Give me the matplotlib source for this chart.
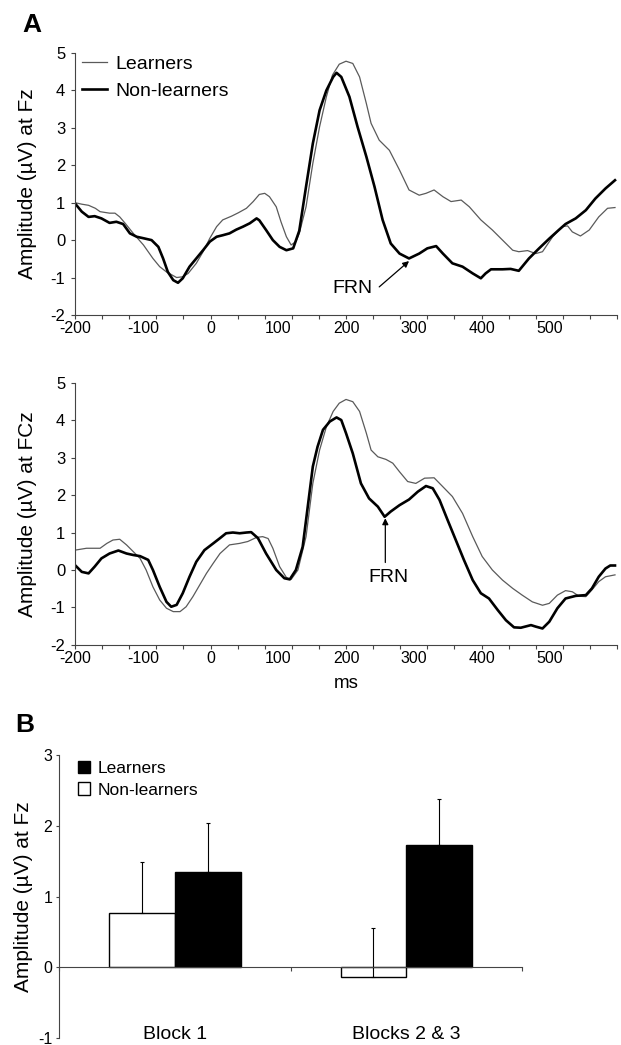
import numpy as np
import matplotlib
matplotlib.use("Agg")
import matplotlib.pyplot as plt
from matplotlib.patches import Patch

plt.rcParams.update({
    "font.family": ["Liberation Sans", "DejaVu Sans"],
    "axes.unicode_minus": False,
    "axes.edgecolor": "#444444",
    "axes.linewidth": 0.8,
    "xtick.color": "#444444",
    "ytick.color": "#444444",
    "xtick.labelcolor": "black",
    "ytick.labelcolor": "black",
})

# ---- Panel A, Fz (ms, uV) ----
fz_learn_t = [-200, -190, -180, -170, -163, -149, -141, -134, -126, -114, -99, -85, -75, -65,
              -50, -41, -33, -21, -11, -1, 9, 18, 31, 41, 53, 63, 72, 80, 87, 97, 104, 112,
              119, 126, 131, 141, 151, 161, 171, 180, 190, 200, 210, 220, 230, 237, 249,
              264, 279, 293, 308, 318, 330, 343, 355, 370, 382, 399, 416, 431, 446, 455,
              468, 480, 490, 505, 519, 527, 534, 546, 559, 573, 586, 597]
fz_learn_v = [1.00, 0.96, 0.93, 0.85, 0.76, 0.72, 0.72, 0.62, 0.45, 0.18, -0.13, -0.49,
              -0.71, -0.85, -1.00, -0.98, -0.89, -0.62, -0.31, 0.05, 0.36, 0.54, 0.64, 0.73,
              0.85, 1.03, 1.22, 1.25, 1.16, 0.89, 0.49, 0.09, -0.13, -0.04, 0.18, 0.89, 2.05,
              3.03, 3.83, 4.41, 4.70, 4.78, 4.72, 4.36, 3.65, 3.12, 2.67, 2.40, 1.87, 1.34,
              1.20, 1.25, 1.34, 1.16, 1.03, 1.07, 0.89, 0.54, 0.27, 0.00, -0.27, -0.31,
              -0.28, -0.36, -0.31, 0.09, 0.36, 0.38, 0.22, 0.11, 0.27, 0.62, 0.85, 0.87]

fz_non_t = [-200, -190, -180, -171, -161, -149, -139, -129, -119, -109, -99, -87, -77, -70,
            -63, -55, -48, -41, -31, -21, -11, -1, 9, 18, 28, 38, 48, 58, 68, 72, 82, 92,
            102, 112, 122, 131, 141, 151, 161, 171, 181, 186, 193, 205, 217, 230, 242, 254,
            266, 279, 293, 308, 320, 333, 343, 357, 372, 387, 399, 406, 414, 431, 443, 455,
            470, 485, 500, 514, 524, 539, 554, 568, 583, 597]
fz_non_v = [0.98, 0.76, 0.62, 0.64, 0.58, 0.46, 0.49, 0.43, 0.18, 0.09, 0.05, 0.00, -0.18,
            -0.49, -0.85, -1.07, -1.14, -1.02, -0.71, -0.49, -0.27, -0.04, 0.09, 0.13, 0.18,
            0.28, 0.36, 0.45, 0.58, 0.53, 0.27, 0.00, -0.18, -0.27, -0.22, 0.25, 1.43, 2.58,
            3.47, 4.00, 4.36, 4.47, 4.36, 3.83, 3.03, 2.23, 1.43, 0.54, -0.09, -0.36, -0.49,
            -0.36, -0.22, -0.16, -0.36, -0.62, -0.71, -0.89, -1.02, -0.89, -0.78, -0.78,
            -0.77, -0.82, -0.49, -0.22, 0.04, 0.27, 0.43, 0.58, 0.80, 1.11, 1.38, 1.60]

# ---- Panel A, FCz (ms, uV) ----
fcz_learn_t = [-200, -183, -163, -153, -144, -134, -124, -114, -104, -95, -85, -75, -65, -55,
               -45, -36, -26, -16, -6, 4, 14, 28, 43, 55, 68, 77, 85, 92, 102, 112, 119, 129,
               141, 151, 161, 171, 181, 190, 200, 210, 220, 230, 237, 247, 259, 269, 279,
               291, 303, 316, 330, 343, 357, 372, 387, 401, 416, 431, 446, 460, 475, 490,
               500, 512, 524, 534, 544, 554, 563, 573, 583, 597]
fcz_learn_v = [0.53, 0.58, 0.58, 0.71, 0.80, 0.82, 0.67, 0.49, 0.31, 0.00, -0.45, -0.80,
               -1.02, -1.11, -1.11, -0.98, -0.71, -0.40, -0.09, 0.18, 0.44, 0.67, 0.71, 0.76,
               0.87, 0.89, 0.84, 0.58, 0.09, -0.20, -0.25, 0.00, 0.89, 2.31, 3.20, 3.82,
               4.23, 4.45, 4.55, 4.49, 4.23, 3.65, 3.20, 3.02, 2.95, 2.85, 2.62, 2.36, 2.31,
               2.45, 2.46, 2.22, 1.96, 1.51, 0.89, 0.36, 0.00, -0.27, -0.49, -0.67, -0.85,
               -0.94, -0.89, -0.67, -0.55, -0.58, -0.70, -0.71, -0.53, -0.31, -0.18, -0.13]

fcz_non_t = [-200, -190, -180, -171, -161, -149, -136, -124, -114, -104, -92, -85, -75, -65,
             -58, -50, -41, -31, -21, -9, 4, 14, 23, 33, 43, 53, 60, 70, 82, 97, 109, 117,
             126, 136, 141, 151, 158, 166, 176, 186, 193, 200, 210, 222, 234, 247, 257, 266,
             279, 293, 306, 318, 328, 338, 350, 362, 374, 387, 399, 411, 424, 436, 448, 458,
             473, 480, 490, 500, 512, 524, 539, 554, 563, 573, 583, 590, 597]
fcz_non_v = [0.13, -0.05, -0.09, 0.09, 0.31, 0.44, 0.52, 0.44, 0.40, 0.37, 0.27, 0.00,
             -0.45, -0.85, -0.98, -0.93, -0.62, -0.18, 0.22, 0.53, 0.71, 0.85, 0.98, 1.00,
             0.98, 1.00, 1.01, 0.85, 0.44, 0.00, -0.22, -0.25, 0.00, 0.62, 1.33, 2.76, 3.29,
             3.74, 3.96, 4.07, 4.00, 3.65, 3.11, 2.31, 1.91, 1.69, 1.42, 1.56, 1.73, 1.88,
             2.09, 2.24, 2.18, 1.87, 1.33, 0.80, 0.27, -0.27, -0.62, -0.76, -1.07, -1.34,
             -1.53, -1.54, -1.47, -1.51, -1.56, -1.38, -1.02, -0.76, -0.69, -0.67, -0.49,
             -0.18, 0.04, 0.12, 0.12]

# ---- Panel B ----
blocks = ["Block 1", "Blocks 2 & 3"]
non_mean = [0.76, -0.14]
non_err = [0.73, 0.69]
learn_mean = [1.35, 1.73]
learn_err = [0.69, 0.65]

x_tick_labels = ["-200", "-100", "0", "100", "200", "300", "400", "500"]
ylab_a = ["-2", "-1", "0", "1", "2", "3", "4", "5"]

THIN = dict(color="#5a5a5a", lw=0.9)
THICK = dict(color="black", lw=1.9)
ARROW = dict(arrowstyle="-|>", color="black", lw=0.9, mutation_scale=9, shrinkA=0, shrinkB=0)

fig = plt.figure(figsize=(6.21, 10.45), dpi=100)
ax1 = fig.add_axes([0.1208, 0.6986, 0.8728, 0.2507])
ax2 = fig.add_axes([0.1208, 0.3828, 0.8728, 0.2511])
ax3 = fig.add_axes([0.0955, 0.0067, 0.7450, 0.2708])


def style_erp(ax, ylabel):
    for s in ("top", "right"):
        ax.spines[s].set_visible(False)
    ax.set_xlim(-200, 600)
    ax.set_ylim(-2, 5)
    ax.xaxis.remove_overlapping_locs = False
    ax.set_xticks(np.arange(-200, 601, 40))
    ax.set_xticklabels([])
    ax.set_xticks(np.arange(-200, 501, 100), minor=True)
    ax.set_xticklabels(x_tick_labels, minor=True)
    ax.tick_params(axis="x", which="major", direction="out", length=3, width=0.8)
    ax.tick_params(axis="x", which="minor", length=0, labelsize=11.5, pad=4.5)
    ax.set_yticks(np.arange(-2, 6))
    ax.set_yticklabels(ylab_a)
    ax.tick_params(axis="y", direction="out", length=3, width=0.8, labelsize=12, pad=4)
    ax.set_ylabel(ylabel, fontsize=15)
    ax.yaxis.set_label_coords(-0.070, 0.5)


ax1.plot(fz_learn_t, fz_learn_v, label="Learners", **THIN)
ax1.plot(fz_non_t, fz_non_v, label="Non-learners", **THICK)
style_erp(ax1, "Amplitude (\u00b5V) at Fz")
ax1.legend(loc="upper left", bbox_to_anchor=(0.012, 0.99), frameon=False, fontsize=14,
           handlelength=1.3, handletextpad=0.45, labelspacing=0.45, borderpad=0,
           borderaxespad=0)
ax1.text(210, -1.30, "FRN", fontsize=14, ha="center", va="center")
ax1.annotate("", xy=(293, -0.56), xytext=(249, -1.25), arrowprops=ARROW)

ax2.plot(fcz_learn_t, fcz_learn_v, **THIN)
ax2.plot(fcz_non_t, fcz_non_v, **THICK)
style_erp(ax2, "Amplitude (\u00b5V) at FCz")
ax2.set_xlabel("ms", fontsize=13.5, labelpad=6)
ax2.text(263, -0.2, "FRN", fontsize=14, ha="center", va="center")
ax2.annotate("", xy=(258, 1.38), xytext=(258, 0.2), arrowprops=ARROW)

# panel B
w = 0.284
xc = np.arange(len(blocks))
ax3.bar(xc - w, non_mean, width=w, align="edge", color="white", edgecolor="black", lw=1.0,
        label="Non-learners")
ax3.bar(xc, learn_mean, width=w, align="edge", color="black", edgecolor="black", lw=1.0,
        label="Learners")
ax3.errorbar(xc - w / 2, non_mean, yerr=[np.zeros(2), non_err], fmt="none", ecolor="black",
             elinewidth=0.8, capsize=1.2, capthick=0.8)
ax3.errorbar(xc + w / 2, learn_mean, yerr=[np.zeros(2), learn_err], fmt="none", ecolor="black",
             elinewidth=0.8, capsize=1.2, capthick=0.8)
ax3.set_xlim(-0.5, 1.5)
ax3.set_ylim(-1, 3)
for s in ("top", "right"):
    ax3.spines[s].set_visible(False)
ax3.spines["bottom"].set_position(("data", 0))
ax3.set_xticks([-0.5, 0.5, 1.5])
ax3.set_xticklabels([])
ax3.tick_params(axis="x", direction="out", length=3, width=0.8)
ax3.set_yticks([-1, 0, 1, 2, 3])
ax3.set_yticklabels(["-1", "0", "1", "2", "3"])
ax3.tick_params(axis="y", direction="out", length=2, width=0.8, labelsize=11.5, pad=3)
for c, name in zip(xc, blocks):
    ax3.text(c, -0.95, name, ha="center", va="center", fontsize=14)
ax3.set_ylabel("Amplitude (\u00b5V) at Fz", fontsize=15)
ax3.yaxis.set_label_coords(-0.056, 0.5)
handles = [Patch(facecolor="black", edgecolor="black"),
           Patch(facecolor="white", edgecolor="black")]
ax3.legend(handles, ["Learners", "Non-learners"], loc="upper left",
           bbox_to_anchor=(0.04, 0.98), frameon=False, fontsize=12.5,
           handlelength=0.7, handleheight=0.75, handletextpad=0.45, labelspacing=0.35,
           borderpad=0, borderaxespad=0)

fig.text(0.051, 0.976, "A", fontsize=19, fontweight="bold", ha="center", va="center")
fig.text(0.040, 0.306, "B", fontsize=19, fontweight="bold", ha="center", va="center")

fig.savefig("out.png", dpi=100)
